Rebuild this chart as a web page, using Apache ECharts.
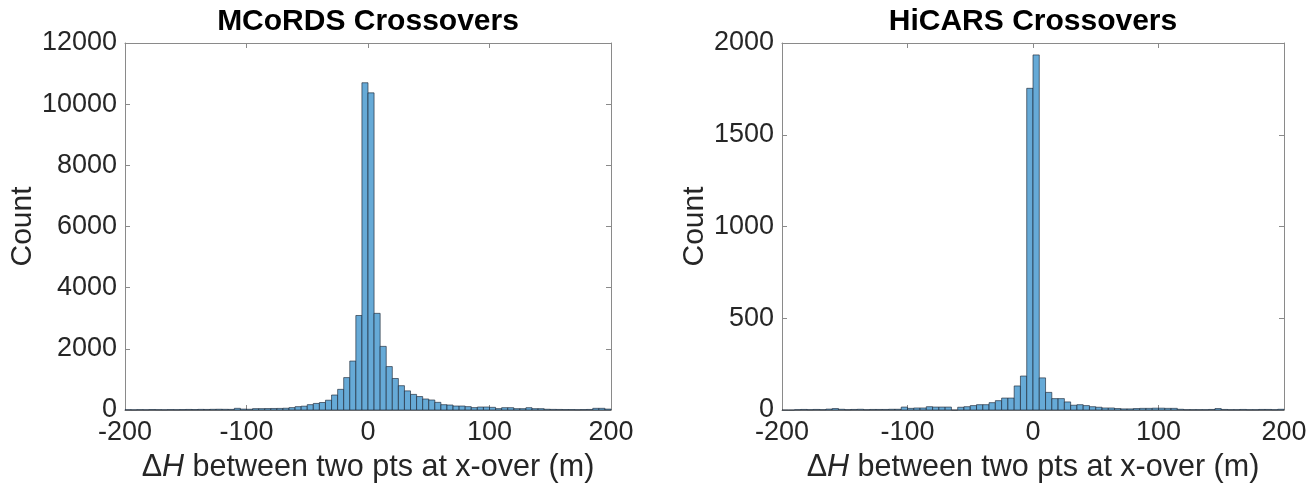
<!DOCTYPE html>
<html>
<head>
<meta charset="utf-8">
<script src="https://cdn.jsdelivr.net/npm/echarts@6/dist/echarts.min.js"></script>
<style>
  html, body { margin: 0; padding: 0; background: #fff; }
  #chart { width: 1311px; height: 489px; }
</style>
</head>
<body>
<div id="chart"></div>
<script>
// Histogram bins: 5 m wide, from -200 m to 200 m (80 bins)
const binStart = -200;
const binWidth = 5;

// MCoRDS crossover height differences, count per bin
const mcordsCounts = [
  10, 8, 12, 10, 15, 12, 10, 14, 12, 15, 18, 15, 20, 18, 22, 25, 22, 20,
  55, 30, 25, 45, 45, 48, 50, 52, 58, 78, 110, 125, 175, 215, 245, 320,
  490, 675, 1060, 1600, 3090, 10700,
  10370, 3160, 2080, 1420, 1030, 795, 625, 510, 440, 360,
  327, 250, 174, 163, 130, 130, 110, 78, 98, 98,
  87, 45, 76, 76, 44, 44, 76, 44, 44, 25,
  20, 18, 15, 15, 12, 15, 18, 55, 55, 30
];

// HiCARS crossover height differences, count per bin
const hicarsCounts = [
  0, 0, 2, 3, 2, 3, 2, 5, 8, 4, 2, 3, 4, 2, 3, 3, 3, 4, 4,
  16, 9, 11, 11, 18, 16, 16, 16, 0, 15, 18, 24, 29, 29, 40, 51, 65, 65, 131, 185, 1753,
  1935, 175, 96, 62, 62, 44, 26, 29, 24, 18,
  15, 11, 11, 8, 6, 6, 8, 9, 9, 10,
  10, 9, 9, 4, 2, 2, 2, 2, 3, 8,
  3, 2, 2, 3, 2, 2, 3, 3, 2, 4
];

const panelTitles = ['MCoRDS Crossovers', 'HiCARS Crossovers'];
const xTicks = [-200, -100, 0, 100, 200];
const yMaxes = [12000, 2000];
const yIntervals = [2000, 500];
const yNameGaps = [81, 59];

function toBins(counts) {
  return counts.map((c, i) => [binStart + i * binWidth, binStart + (i + 1) * binWidth, c]);
}

const textColor = '#262626';
const frameColor = '#8a8a8a';
const font = '"Liberation Sans", Arial, Helvetica, sans-serif';

const grids = [
  { left: 125, top: 43, width: 486, height: 367, outerBoundsMode: 'none', containLabel: false },
  { left: 782, top: 43, width: 502, height: 367, outerBoundsMode: 'none', containLabel: false }
];

const xAxes = [];
const yAxes = [];
grids.forEach((g, i) => {
  // bottom axis with labels
  xAxes.push({
    type: 'value', gridIndex: i, position: 'bottom',
    min: xTicks[0], max: xTicks[xTicks.length - 1], interval: 100,
    axisLine: { show: true, onZero: false, lineStyle: { color: frameColor, width: 1 } },
    axisTick: { show: true, inside: true, length: 5, lineStyle: { color: frameColor } },
    axisLabel: { color: textColor, fontSize: 27, fontFamily: font, margin: 9 },
    splitLine: { show: false },
    name: '{d|Δ}{i|H}{n| between two pts at x-over (m)}',
    nameLocation: 'middle', nameGap: 42,
    nameTextStyle: {
      color: textColor, fontSize: 30.5, fontFamily: font,
      rich: {
        d: { fontSize: 30.5, fontFamily: font, color: textColor },
        i: { fontSize: 30.5, fontFamily: font, fontStyle: 'italic', color: textColor },
        n: { fontSize: 30.5, fontFamily: font, color: textColor }
      }
    }
  });
  // mirrored top edge of the box
  xAxes.push({
    type: 'value', gridIndex: i, position: 'top',
    min: xTicks[0], max: xTicks[xTicks.length - 1], interval: 100,
    axisLine: { show: true, onZero: false, lineStyle: { color: frameColor, width: 1 } },
    axisTick: { show: true, inside: true, length: 5, lineStyle: { color: frameColor } },
    axisLabel: { show: false },
    splitLine: { show: false }
  });
  yAxes.push({
    type: 'value', gridIndex: i, position: 'left',
    min: 0, max: yMaxes[i], interval: yIntervals[i],
    axisLine: { show: true, onZero: false, lineStyle: { color: frameColor, width: 1 } },
    axisTick: { show: true, inside: true, length: 5, lineStyle: { color: frameColor } },
    axisLabel: { color: textColor, fontSize: 27, fontFamily: font, margin: 8,
                 formatter: v => String(v) },
    splitLine: { show: false },
    name: 'Count', nameLocation: 'middle', nameRotate: 90, nameGap: yNameGaps[i],
    nameTextStyle: { color: textColor, fontSize: 30, fontFamily: font }
  });
  yAxes.push({
    type: 'value', gridIndex: i, position: 'right',
    min: 0, max: yMaxes[i], interval: yIntervals[i],
    axisLine: { show: true, onZero: false, lineStyle: { color: frameColor, width: 1 } },
    axisTick: { show: true, inside: true, length: 5, lineStyle: { color: frameColor } },
    axisLabel: { show: false },
    splitLine: { show: false }
  });
});

function histSeries(counts, i) {
  return {
    type: 'custom',
    xAxisIndex: i * 2, yAxisIndex: i * 2,
    data: toBins(counts),
    encode: { x: [0, 1], y: 2 },
    renderItem: function (params, api) {
      const p0 = api.coord([api.value(0), 0]);
      const p1 = api.coord([api.value(1), api.value(2)]);
      return {
        type: 'rect',
        shape: { x: p0[0], y: p1[1], width: p1[0] - p0[0], height: p0[1] - p1[1] },
        style: { fill: '#66aad7', stroke: 'rgba(25,35,50,0.9)', lineWidth: 0.7 }
      };
    },
    silent: true
  };
}

const chart = echarts.init(document.getElementById('chart'), null, { renderer: 'canvas' });
chart.setOption({
  animation: false,
  backgroundColor: '#ffffff',
  grid: grids,
  xAxis: xAxes,
  yAxis: yAxes,
  graphic: grids.map((g, i) => ({
    type: 'text',
    x: g.left + g.width / 2,
    y: 22,
    style: {
      text: panelTitles[i],
      textAlign: 'center', textVerticalAlign: 'middle',
      font: 'bold 30px ' + font,
      fill: '#000000'
    }
  })),
  series: [histSeries(mcordsCounts, 0), histSeries(hicarsCounts, 1)]
});
</script>
</body>
</html>
